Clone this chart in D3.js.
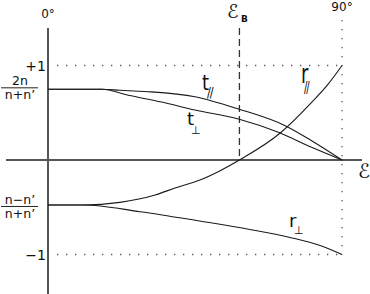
<!DOCTYPE html>
<html><head><meta charset="utf-8">
<script src="https://cdn.jsdelivr.net/npm/d3@7"></script>
<style>html,body{margin:0;padding:0;background:#fff;}svg{display:block}</style>
</head><body><svg id="c" width="370" height="294"></svg>
<script>
// ---- data ----
const epsDomain = [0, 90];
const valueDomain = [-1, 1];
const tParEps  = [0, 16.5, 22, 29.7, 45, 58.3, 72.6, 80.7, 90];
const tParVal  = [0.748, 0.748, 0.738, 0.725, 0.670, 0.540, 0.363, 0.204, 0];
const tPerpEps = [0, 16.5, 24.6, 34.8, 45, 58.3, 70.5, 80.7, 90];
const tPerpVal = [0.748, 0.748, 0.685, 0.613, 0.529, 0.434, 0.293, 0.134, 0];
const rParEps  = [0, 10.7, 22, 32.8, 38.9, 46.5, 52.7, 58.6, 71, 80.7, 85.7, 90];
const rParVal  = [-0.476, -0.476, -0.448, -0.370, -0.296, -0.212, -0.113, 0, 0.283, 0.61, 0.80, 1.0];
const rPerpEps = [0, 10.7, 28.2, 46.5, 61.8, 74.1, 83.3, 90];
const rPerpVal = [-0.476, -0.476, -0.547, -0.646, -0.735, -0.820, -0.905, -1];
const yTickValues = [1, -1];
const yTickLabels = ["+1", "\u22121"];
const xTickValues = [0, 90];
const xTickLabels = ["0\u00b0", "90\u00b0"];
const brewsterEps = 58.6;
const tZero = 0.748;   // 2n/(n+n')
const rZero = -0.476;  // (n-n')/(n+n')

// ---- scales ----
const svg = d3.select("#c");
const x = d3.scaleLinear().domain(epsDomain).range([48, 342]);
const y = d3.scaleLinear().domain(valueDomain).range([254.5, 65.5]);
const FONT = "DejaVu Sans, Liberation Sans, sans-serif";

// dotted guides
const dot = {stroke: "#555", "stroke-width": 1.3, "stroke-dasharray": "1.3,7.7"};
function applyAttrs(sel, o){ for (const k in o) sel.attr(k, o[k]); return sel; }
applyAttrs(svg.append("line").attr("x1", 57).attr("x2", x(90)).attr("y1", y(1)).attr("y2", y(1)), dot);
applyAttrs(svg.append("line").attr("x1", 57).attr("x2", x(90)).attr("y1", y(-1)).attr("y2", y(-1)), dot);
applyAttrs(svg.append("line").attr("x1", x(90)).attr("x2", x(90)).attr("y1", 20).attr("y2", y(-1)), dot);

// Brewster dashed line
svg.append("line").attr("x1", x(brewsterEps)).attr("x2", x(brewsterEps))
  .attr("y1", 28).attr("y2", y(0))
  .attr("stroke", "#333").attr("stroke-width", 1.3).attr("stroke-dasharray", "7,4");

// axes
svg.append("line").attr("x1", 6).attr("x2", 362).attr("y1", y(0)).attr("y2", y(0))
  .attr("stroke", "#555").attr("stroke-width", 2);
svg.append("line").attr("x1", x(0)).attr("x2", x(0)).attr("y1", 28).attr("y2", 294)
  .attr("stroke", "#555").attr("stroke-width", 2);

// y tick labels via d3 axis
const yAxis = d3.axisLeft(y).tickValues(yTickValues)
  .tickFormat((d, i) => yTickLabels[i]).tickSize(0).tickPadding(2);
const gy = svg.append("g").attr("transform", `translate(${x(0)},0)`).call(yAxis);
gy.select(".domain").remove();
gy.selectAll("text").attr("font-family", FONT).attr("font-size", 14).attr("fill", "#111").attr("dy", "0.36em");

// top degree labels
svg.selectAll("text.xt").data(xTickValues).enter().append("text").attr("class", "xt")
  .attr("x", d => x(d)).attr("y", (d, i) => i === 0 ? 18 : 11)
  .attr("text-anchor", "middle").attr("font-family", FONT).attr("font-size", 12)
  .attr("fill", "#111").text((d, i) => xTickLabels[i]);

// curves
const line = d3.line().x(d => x(d[0])).y(d => y(d[1])).curve(d3.curveMonotoneX);
const series = [
  [tParEps, tParVal], [tPerpEps, tPerpVal], [rParEps, rParVal], [rPerpEps, rPerpVal]
];
series.forEach(([e, v]) => {
  svg.append("path").datum(e.map((d, i) => [d, v[i]])).attr("d", line)
    .attr("fill", "none").attr("stroke", "#1a1a1a").attr("stroke-width", 1.1);
});

// fraction labels
function fraction(num, den, val, lineDy){
  const yy = y(val) + lineDy;
  svg.append("text").attr("x", 20).attr("y", yy - 2.5).attr("text-anchor", "middle")
    .attr("font-family", FONT).attr("font-size", 12.5).attr("fill", "#111").text(num);
  svg.append("line").attr("x1", 1).attr("x2", 38).attr("y1", yy).attr("y2", yy)
    .attr("stroke", "#222").attr("stroke-width", 1);
  svg.append("text").attr("x", 20).attr("y", yy + 11.5).attr("text-anchor", "middle")
    .attr("font-family", FONT).attr("font-size", 12.5).attr("fill", "#111").text(den);
}
fraction("2n", "n+n\u2019", tZero, -1.5);
fraction("n\u2212n\u2019", "n+n\u2019", rZero, 1.5);

// epsilon labels
svg.append("text").attr("x", 358).attr("y", 178).attr("font-family", FONT)
  .attr("font-size", 20).attr("fill", "#111").text("\u2130");
const eb = svg.append("text").attr("x", 227).attr("y", 18).attr("font-family", FONT)
  .attr("font-size", 19).attr("fill", "#111");
eb.append("tspan").text("\u2130");
eb.append("tspan").attr("x", 241).attr("y", 22).attr("font-size", 9)
  .attr("font-weight", "bold").text("B");

// curve labels (letter + subscript in one text element)
function curveLabel(letter, sub, lx, ly, subDx, subDy, subSize, sc){
  const t = svg.append("text").attr("transform", `translate(${lx},${ly}) scale(1,${sc})`)
    .attr("font-family", FONT).attr("fill", "#111");
  t.append("tspan").attr("x", 0).attr("y", 0).attr("font-size", 18).text(letter);
  t.append("tspan").attr("x", subDx).attr("y", subDy / sc).attr("font-size", subSize)
    .attr("letter-spacing", sub === "//" ? -1.2 : 0).text(sub);
}
curveLabel("t", "//", 202, 90, 5, 7, 11.5, 1.2);
curveLabel("t", "\u22a5", 187, 125, 4, 9, 11, 1.0);
curveLabel("r", "//", 301, 83, 3, 10, 10, 1.5);
curveLabel("r", "\u22a5", 289, 227, 5, 7, 11, 1.0);
</script></body></html>
